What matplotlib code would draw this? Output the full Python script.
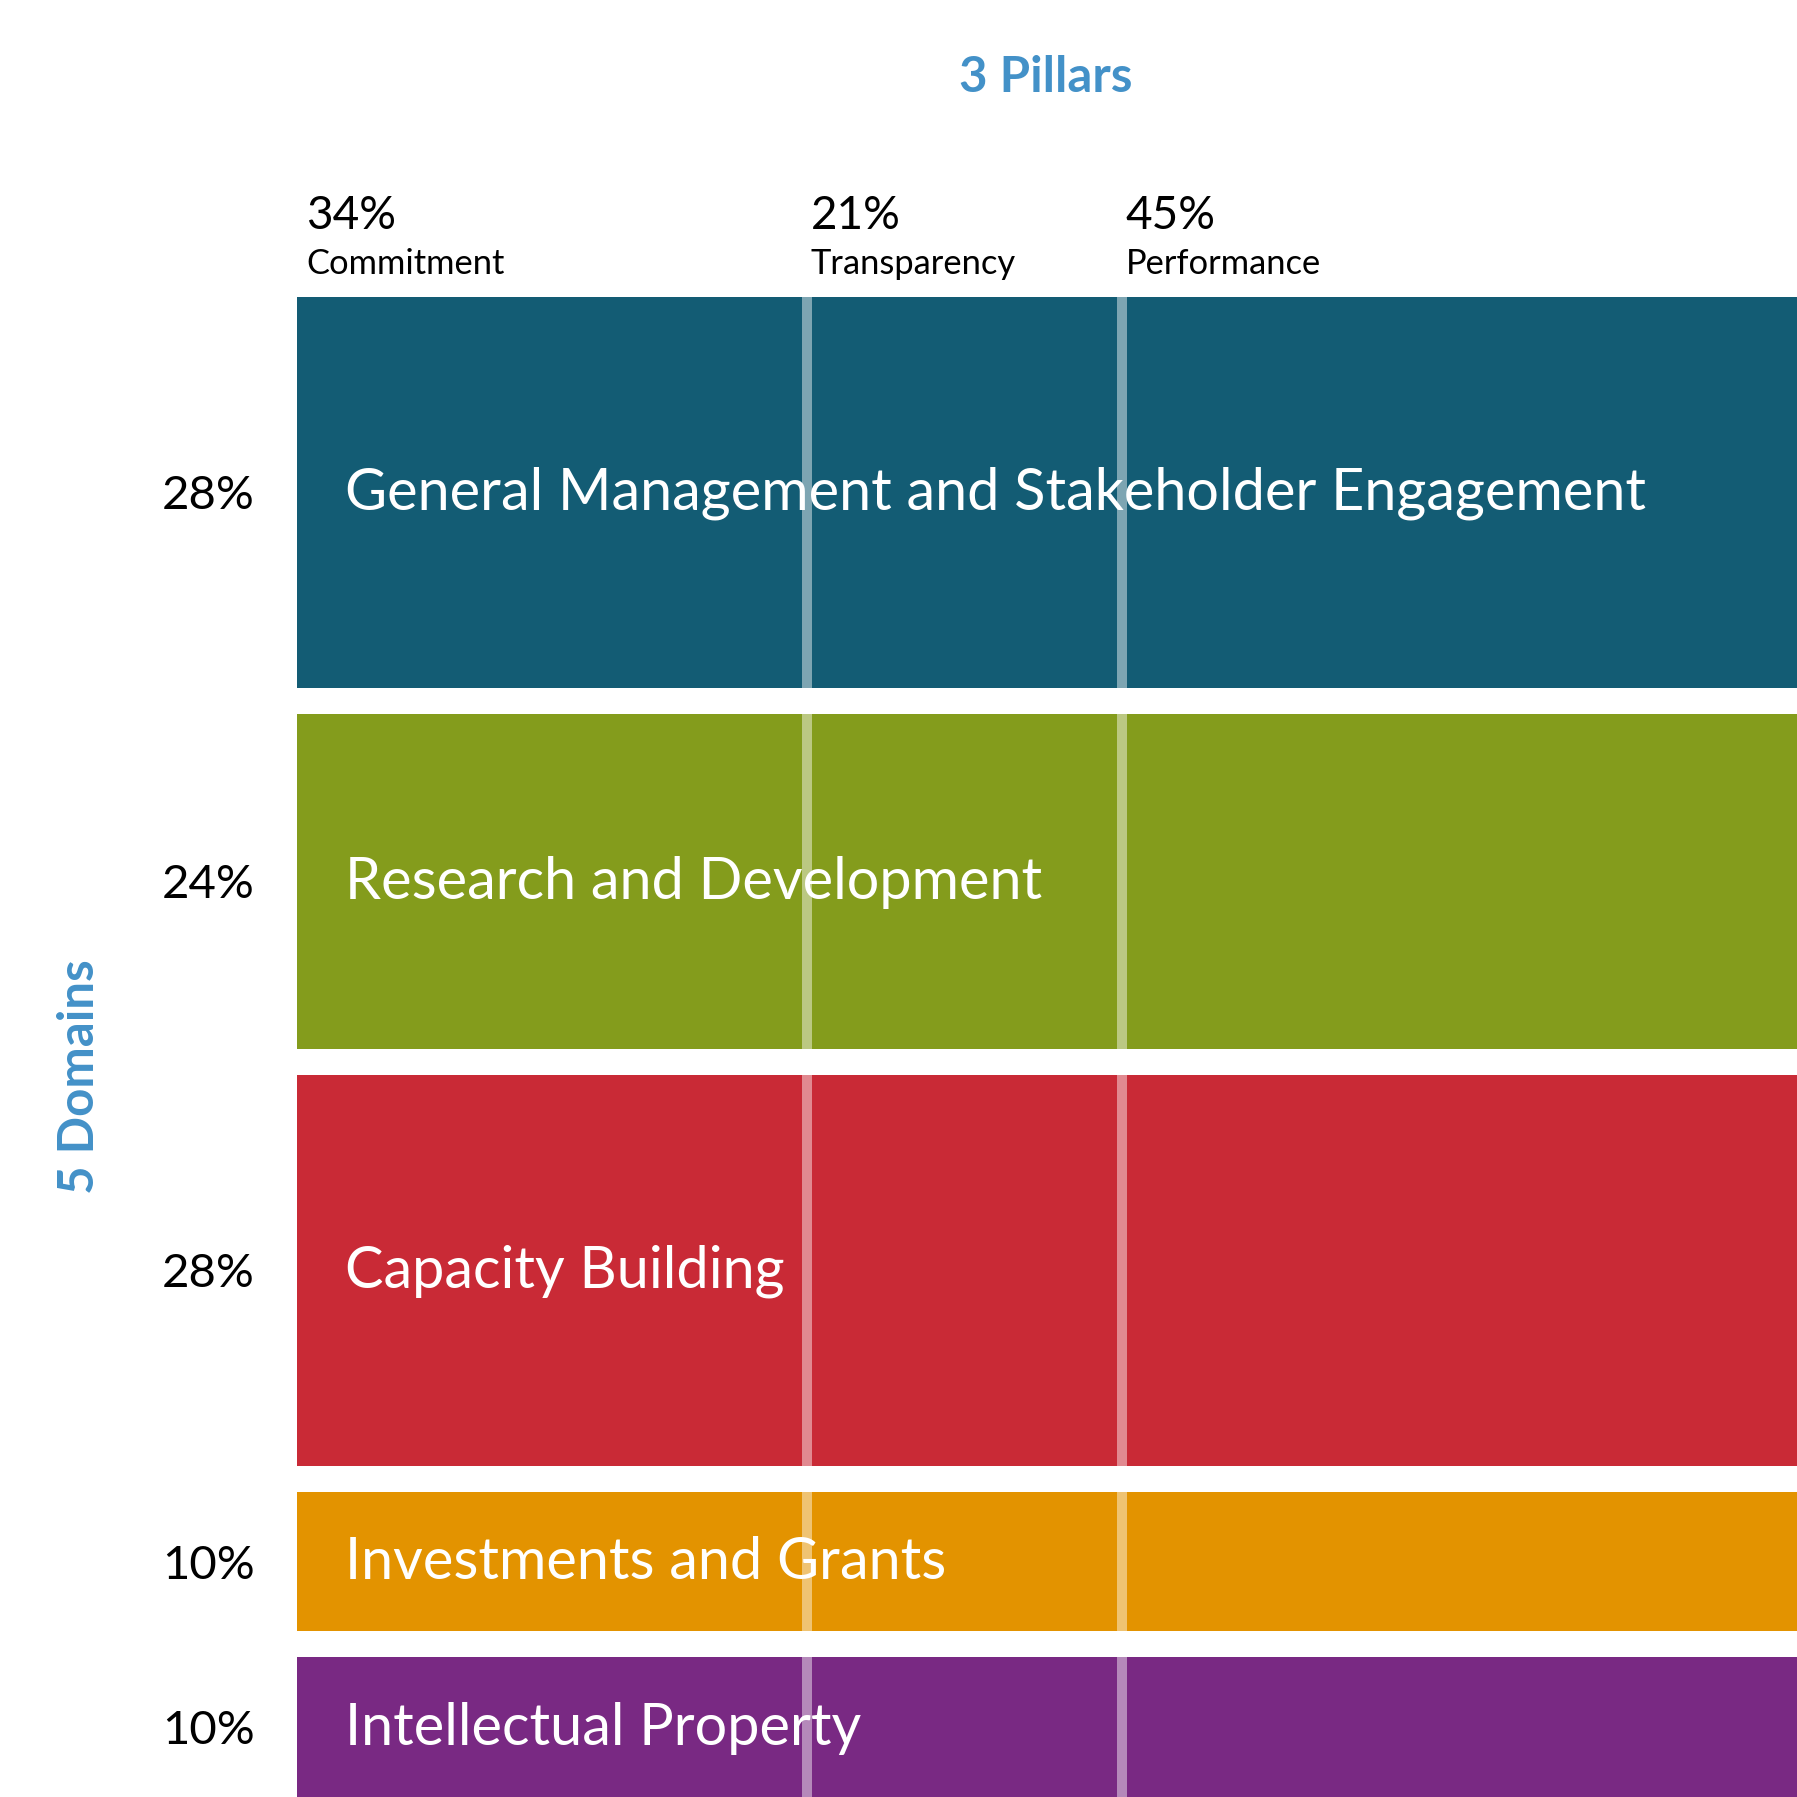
import matplotlib
matplotlib.use("Agg")
import matplotlib.pyplot as plt

# ---- data ----
domains = ["General Management and Stakeholder Engagement",
           "Research and Development",
           "Capacity Building",
           "Investments and Grants",
           "Intellectual Property"]
domain_pct = [28, 24, 28, 10, 10]
domain_colors = ["#135C74", "#849C1C", "#C92A36", "#E39300", "#792983"]

pillars = ["Commitment", "Transparency", "Performance"]
pillar_pct = [34, 21, 45]

title_top = "3 Pillars"
title_left = "5 Domains"

# ---- layout ----
W = H = 1797
DPI = 100
fig = plt.figure(figsize=(W / DPI, H / DPI), dpi=DPI)
fig.patch.set_facecolor("white")

left_px, top_px = 297, 297
ax = fig.add_axes([left_px / W, 0, 1 - left_px / W, 1 - top_px / H])
gap = 1.88
total_h = sum(domain_pct) + gap * (len(domain_pct) - 1)
ax.set_xlim(0, 100)
ax.set_ylim(total_h, 0)
ax.axis("off")

FONT = "Lato"
blue = "#4391C8"

y = 0
for name, pct, col in zip(domains, domain_pct, domain_colors):
    ax.barh(y + pct / 2, 100, height=pct, left=0, color=col, edgecolor="none")
    ax.text(3.2, y + pct / 2 + 0.1, name, color="white", fontsize=41.5, family=FONT,
            va="center", ha="left")
    ax.text(-5.9, y + pct / 2 + 0.3, f"{pct}%", color="black", fontsize=34, family=FONT,
            va="center", ha="center", clip_on=False)
    y += pct + gap

# pillar separators
cum = 0
for i, p in enumerate(pillar_pct):
    off = 0.6 if i == 0 else 0.25
    if i > 0:
        ax.axvline(cum, color="white", alpha=0.45, lw=7.2, zorder=3)
    ax.text(cum + off, -4.9, f"{p}%", fontsize=33, family=FONT, color="black",
            ha="left", va="baseline", clip_on=False)
    ax.text(cum + off, -1.67, pillars[i], fontsize=24.8, family=FONT, color="black",
            ha="left", va="baseline", clip_on=False)
    cum += p

fig.text(1046 / W, 1 - 78 / H, title_top, fontsize=35.5, family=FONT, weight="bold",
         color=blue, ha="center", va="center")
fig.text(80 / W, 1 - 1077 / H, title_left, fontsize=35.5, family=FONT, weight="bold",
         color=blue, ha="center", va="center", rotation=90)

fig.savefig("out.png", dpi=DPI, facecolor="white")
